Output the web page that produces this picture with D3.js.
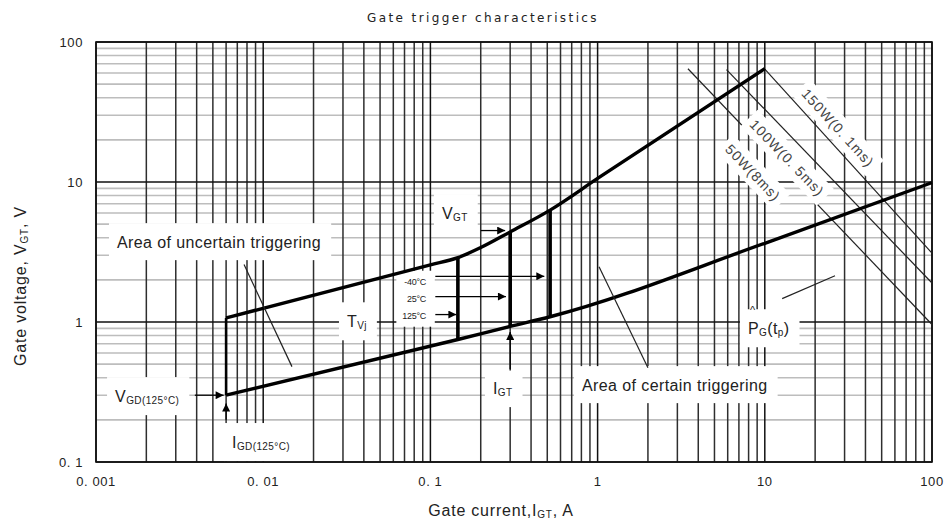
<!DOCTYPE html>
<html>
<head>
<meta charset="utf-8">
<script src="https://cdn.jsdelivr.net/npm/d3@7"></script>
<style>
body { margin: 0; background: #fff; }
text { font-family: "Liberation Sans", Arial, sans-serif; fill: #222; }
</style>
</head>
<body>
<svg id="chart" width="948" height="523"></svg>
<script>
// tick labels
var xTicks = [0.001, 0.01, 0.1, 1, 10, 100];
var xTickLabels = ['0. 001', '0. 01', '0. 1', '1', '10', '100'];
var yTicks = [0.1, 1, 10, 100];
var yTickLabels = ['0. 1', '1', '10', '100'];

// boundary curves, [I_G (A), V_G (V)]
var upperCurve = [[0.006, 1.07], [0.1, 2.56], [0.146, 2.88], [0.2, 3.4], [0.3, 4.4], [0.52, 6.3], [1, 10.6], [10, 64.5]];
var lowerCurve = [[0.006, 0.3], [0.146, 0.75], [0.3, 0.93], [0.52, 1.09], [10, 3.65], [100, 9.9]];
var leftEdge = [[0.006, 0.3], [0.006, 1.07]];

// Tvj bars: [I, V low, V high]
var tvjBars = [[0.146, 0.75, 2.88], [0.3, 0.93, 4.4], [0.52, 1.09, 6.3]];

// max gate power lines
var powerNames = ['150W(0. 1ms)', '100W(0. 5ms)', '50W(8ms)'];
var powerFrom = [[10, 64], [5.9, 63.5], [3.47, 64.4]];
var powerTo = [[100, 3.1], [100, 1.9], [100, 0.96]];
var powerLabelAt = [[27.4, 24.4], [13.6, 14.9], [8.5, 11.65]];

// arrows [from, to]
var arrows = [
    [[0.2, 4.5], [0.28, 4.5]],
    [[0.107, 2.12], [0.48, 2.12]],
    [[0.107, 1.52], [0.283, 1.52]],
    [[0.107, 1.13], [0.143, 1.13]],
    [[0.3, 0.45], [0.3, 0.85]],
    [[0.0039, 0.3], [0.0058, 0.3]],
    [[0.006, 0.2], [0.006, 0.262]]
];

// thin leader lines
var leaders = [
    [[0.00768, 2.57], [0.01486, 0.48]],
    [[1.02, 2.48], [2.0, 0.472]],
    [[12.7, 1.47], [26.3, 2.14]]
];

// text labels, parts: [text, isSubscript]
var labels = [
    { parts: [['Area of uncertain triggering']], at: [0.001335, 3.75] },
    { parts: [['Area of certain triggering']], at: [0.807, 0.357] },
    { parts: [['V'], ['GT', 1]], at: [0.1173, 6.04] },
    { parts: [['T'], ['Vj', 1]], at: [0.0317, 1.02] },
    { parts: [['I'], ['GT', 1]], at: [0.2367, 0.34] },
    { parts: [['V'], ['GD(125°C)', 1]], at: [0.0013, 0.298] },
    { parts: [['I'], ['GD(125°C)', 1]], at: [0.00651, 0.14] },
    { parts: [['P'], ['G', 1], ['(t'], ['p', 1], [')']], at: [7.93, 0.91], hat: true }
];

var tempNames = ['-40°C', '25°C', '125°C'];
var tempAt = [[0.0941, 1.94], [0.0941, 1.47], [0.0941, 1.109]];

var svg = d3.select('#chart');
var x = d3.scaleLog().domain([0.001, 100]).range([96, 932]);
var y = d3.scaleLog().domain([0.1, 100]).range([462, 42]);

function isMajor(v) {
    var l = Math.log10(v);
    return Math.abs(l - Math.round(l)) < 1e-6;
}

// grid
var grid = svg.append('g');
grid.selectAll('line.hy')
    .data(y.ticks().filter(function (d) { return !isMajor(d); }))
    .enter().append('line')
    .attr('x1', 96).attr('x2', 932)
    .attr('y1', function (d) { return y(d); })
    .attr('y2', function (d) { return y(d); })
    .attr('stroke', '#bdbdbd').attr('stroke-width', 1.6);
grid.selectAll('line.vx')
    .data(x.ticks())
    .enter().append('line')
    .attr('y1', 42).attr('y2', 462)
    .attr('x1', function (d) { return x(d); })
    .attr('x2', function (d) { return x(d); })
    .attr('stroke', function (d) { return isMajor(d) ? '#111' : '#2e2e2e'; })
    .attr('stroke-width', 1.5);
grid.selectAll('line.hmaj')
    .data(y.ticks().filter(isMajor))
    .enter().append('line')
    .attr('x1', 96).attr('x2', 932)
    .attr('y1', function (d) { return y(d); })
    .attr('y2', function (d) { return y(d); })
    .attr('stroke', '#111').attr('stroke-width', 1.4);

svg.append('rect').attr('x', 96).attr('y', 42).attr('width', 836).attr('height', 420)
    .attr('fill', 'none').attr('stroke', '#111').attr('stroke-width', 1.6);

// tick labels
svg.selectAll('text.xt').data(xTicks).enter().append('text')
    .attr('x', function (d) { return x(d); }).attr('y', 481)
    .attr('text-anchor', 'middle').attr('dominant-baseline', 'central')
    .attr('font-size', 13).attr('letter-spacing', 0.6)
    .text(function (d, i) { return xTickLabels[i]; });
svg.selectAll('text.yt').data(yTicks).enter().append('text')
    .attr('x', 83).attr('y', function (d) { return y(d); })
    .attr('text-anchor', 'end').attr('dominant-baseline', 'central')
    .attr('font-size', 13).attr('letter-spacing', 0.6)
    .text(function (d, i) { return yTickLabels[i]; });

// title and axis titles
svg.append('text').attr('x', 483).attr('y', 18)
    .attr('text-anchor', 'middle').attr('dominant-baseline', 'central')
    .style('font-family', '"DejaVu Sans", sans-serif')
    .attr('font-size', 12).attr('letter-spacing', 2.4)
    .text('Gate trigger characteristics');

function writeParts(t, parts, subSize) {
    var sub = false;
    parts.forEach(function (p) {
        var s = t.append('tspan').text(p[0]);
        if (p[1] && !sub) { s.attr('font-size', subSize).attr('dy', 4); sub = true; }
        else if (p[1]) { s.attr('font-size', subSize); }
        else if (sub) { s.attr('dy', -4); sub = false; }
    });
}

var xt = svg.append('text').attr('x', 501).attr('y', 510)
    .attr('text-anchor', 'middle').attr('dominant-baseline', 'central')
    .attr('font-size', 16).attr('letter-spacing', 0.8);
writeParts(xt, [['Gate current,I'], ['GT', 1], [',  A']], 10);

var yt = svg.append('text').attr('transform', 'translate(20,286) rotate(-90)')
    .attr('text-anchor', 'middle').attr('dominant-baseline', 'central')
    .attr('font-size', 16).attr('letter-spacing', 0.8);
writeParts(yt, [['Gate voltage, V'], ['GT', 1], [',  V']], 10);

// label boxes + text
var boxes = svg.append('g');
var marks = svg.append('g');
var texts = svg.append('g');

labels.forEach(function (d) {
    var t = texts.append('text')
        .attr('x', x(d.at[0])).attr('y', y(d.at[1]))
        .attr('dominant-baseline', 'central')
        .attr('font-size', 16).attr('letter-spacing', 0.4);
    writeParts(t, d.parts, 10);
    var b = t.node().getBBox();
    boxes.append('rect').attr('x', b.x - 8).attr('y', b.y - 10)
        .attr('width', b.width + 18).attr('height', b.height + 20).attr('fill', '#fff');
    if (d.hat) {
        texts.append('text').attr('x', x(d.at[0]) + 2).attr('y', y(d.at[1]) - 18)
            .attr('dominant-baseline', 'central').attr('font-size', 11).text('^');
    }
});

var tg = texts.append('g');
tempNames.forEach(function (n, i) {
    tg.append('text').attr('x', x(tempAt[i][0])).attr('y', y(tempAt[i][1]))
        .attr('text-anchor', 'end').attr('dominant-baseline', 'central')
        .attr('font-size', 9).attr('letter-spacing', -0.3).text(n);
});
var tb = tg.node().getBBox();
boxes.append('rect').attr('x', tb.x - 6).attr('y', tb.y - 6)
    .attr('width', tb.width + 14).attr('height', tb.height + 12).attr('fill', '#fff');

// power lines and rotated labels
powerNames.forEach(function (n, i) {
    var x1 = x(powerFrom[i][0]), y1 = y(powerFrom[i][1]);
    var x2 = x(powerTo[i][0]), y2 = y(powerTo[i][1]);
    marks.append('line').attr('x1', x1).attr('y1', y1).attr('x2', x2).attr('y2', y2)
        .attr('stroke', '#222').attr('stroke-width', 1.2);
    var ang = Math.atan2(y2 - y1, x2 - x1) * 180 / Math.PI;
    var lg = texts.append('g')
        .attr('transform', 'translate(' + x(powerLabelAt[i][0]) + ',' + y(powerLabelAt[i][1]) + ') rotate(' + ang + ')');
    var box = lg.append('rect').attr('fill', '#fff');
    var t = lg.append('text').attr('text-anchor', 'middle').attr('dominant-baseline', 'central')
        .attr('font-size', 14).attr('letter-spacing', 1).style('fill', '#444').text(n);
    var b = t.node().getBBox();
    box.attr('x', b.x - 5).attr('y', b.y - 4).attr('width', b.width + 10).attr('height', b.height + 8);
});

// curves
var line = d3.line()
    .x(function (d) { return x(d[0]); })
    .y(function (d) { return y(d[1]); })
    .curve(d3.curveMonotoneX);

marks.append('path').datum(upperCurve).attr('d', line)
    .attr('fill', 'none').attr('stroke', '#000').attr('stroke-width', 3.4);
marks.append('path').datum(lowerCurve).attr('d', line)
    .attr('fill', 'none').attr('stroke', '#000').attr('stroke-width', 3.4);
marks.append('path').datum(leftEdge).attr('d', d3.line().x(function (d) { return x(d[0]); }).y(function (d) { return y(d[1]); }))
    .attr('fill', 'none').attr('stroke', '#000').attr('stroke-width', 2.6);

marks.selectAll('line.bar').data(tvjBars).enter().append('line')
    .attr('x1', function (d) { return x(d[0]); })
    .attr('x2', function (d) { return x(d[0]); })
    .attr('y1', function (d) { return y(d[1]); })
    .attr('y2', function (d) { return y(d[2]); })
    .attr('stroke', '#000').attr('stroke-width', 3.6);

marks.selectAll('line.leader').data(leaders).enter().append('line')
    .attr('x1', function (d) { return x(d[0][0]); })
    .attr('y1', function (d) { return y(d[0][1]); })
    .attr('x2', function (d) { return x(d[1][0]); })
    .attr('y2', function (d) { return y(d[1][1]); })
    .attr('stroke', '#222').attr('stroke-width', 1.2);

svg.append('defs').append('marker')
    .attr('id', 'head').attr('viewBox', '0 0 10 10')
    .attr('refX', 10).attr('refY', 5)
    .attr('markerUnits', 'userSpaceOnUse')
    .attr('markerWidth', 9).attr('markerHeight', 8)
    .attr('orient', 'auto')
    .append('path').attr('d', 'M0,0L10,5L0,10z').attr('fill', '#000');

marks.selectAll('line.arrow').data(arrows).enter().append('line')
    .attr('x1', function (d) { return x(d[0][0]); })
    .attr('y1', function (d) { return y(d[0][1]); })
    .attr('x2', function (d) { return x(d[1][0]); })
    .attr('y2', function (d) { return y(d[1][1]); })
    .attr('stroke', '#000').attr('stroke-width', 1.3)
    .attr('marker-end', 'url(#head)');
</script>
</body>
</html>
